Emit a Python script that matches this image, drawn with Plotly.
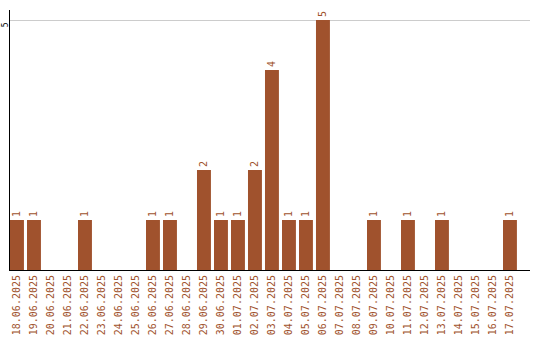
import plotly.graph_objects as go

dates = ["18.06.2025", "19.06.2025", "20.06.2025", "21.06.2025", "22.06.2025",
         "23.06.2025", "24.06.2025", "25.06.2025", "26.06.2025", "27.06.2025",
         "28.06.2025", "29.06.2025", "30.06.2025", "01.07.2025", "02.07.2025",
         "03.07.2025", "04.07.2025", "05.07.2025", "06.07.2025", "07.07.2025",
         "08.07.2025", "09.07.2025", "10.07.2025", "11.07.2025", "12.07.2025",
         "13.07.2025", "14.07.2025", "15.07.2025", "16.07.2025", "17.07.2025"]
counts = [1, 1, 0, 0, 1, 0, 0, 0, 1, 1,
          0, 2, 1, 1, 2, 4, 1, 1, 5, 0,
          0, 1, 0, 1, 0, 1, 0, 0, 0, 1]

BROWN = "#A0522D"
FONT = "DejaVu Sans Mono"

fig = go.Figure(go.Bar(
    x=dates, y=counts,
    marker=dict(color=BROWN, line=dict(width=0)),
    text=[str(c) if c else "" for c in counts],
    textposition="outside", textangle=-90,
    textfont=dict(family=FONT, size=10, color=BROWN),
    cliponaxis=False,
))

fig.update_layout(
    width=540, height=340,
    margin=dict(l=10, r=10, t=10, b=70, autoexpand=False),
    paper_bgcolor="white", plot_bgcolor="white",
    bargap=0.18, showlegend=False,
    xaxis=dict(type="category", range=[-0.41, 30.18], tickangle=-90,
               showline=True, linecolor="black", linewidth=1,
               showgrid=False, ticks="", automargin=False,
               tickfont=dict(family=FONT, size=10, color=BROWN)),
    yaxis=dict(range=[0, 5.2], tickvals=[5], tickangle=-90,
               showline=True, linecolor="black", linewidth=1,
               showgrid=True, gridcolor="#cccccc", zeroline=False,
               ticks="", automargin=False, ticklabelstandoff=-2,
               ticklabelshift=6,
               tickfont=dict(family=FONT, size=8, color="black")),
)

fig.write_html("out.html")
